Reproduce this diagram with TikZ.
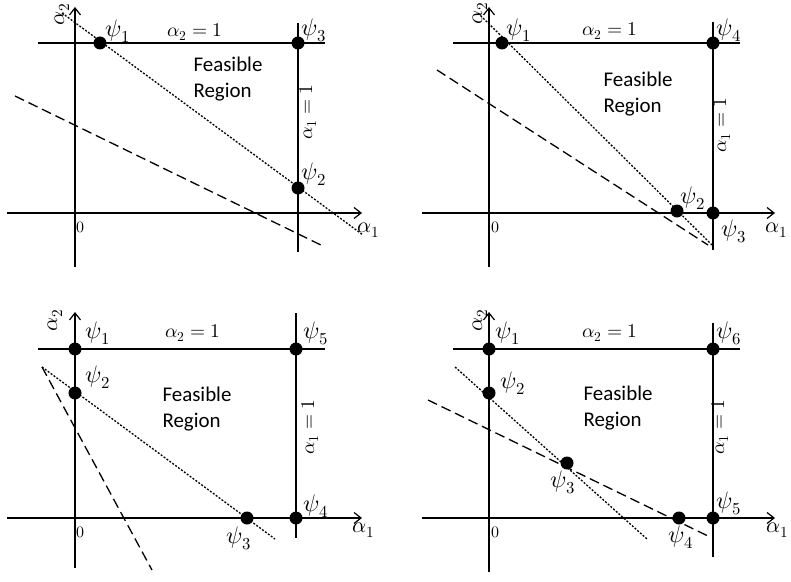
\documentclass[tikz,border=0pt]{standalone}
\usepackage{fontspec}
\usepackage{unicode-math}
\setmainfont{Carlito}
\setmathfont{Latin Modern Math}
\usetikzlibrary{arrows.meta}
\begin{document}
\begin{tikzpicture}[x=1bp,y=-1bp,
  ax/.style={line width=1.4bp,-{Straight Barb[length=7bp,width=11bp,line width=1.2bp]}},
  bd/.style={line width=1.4bp},
  dotl/.style={line width=1.3bp,dash pattern=on 2bp off 1.6bp},
  dashl/.style={line width=1.3bp,dash pattern=on 10bp off 5bp},
  pt/.style={circle,fill=black,inner sep=0pt,minimum size=13bp},
  psi/.style={inner sep=0pt,font=\fontsize{24}{27}\selectfont},
  eqn/.style={inner sep=0pt,font=\fontsize{19.5}{22}\selectfont},
  axl/.style={inner sep=0pt,font=\fontsize{22}{25}\selectfont},
  zer/.style={inner sep=0pt,font=\fontsize{16}{19}\selectfont},
  reg/.style={inner sep=0pt,align=left,font=\fontsize{21}{26}\selectfont}]
\useasboundingbox (0,0) rectangle (791,582);

% ---------------- Panel 1 (top left) ----------------
\coordinate (p1yb) at (75,267);  \coordinate (p1yt) at (75,7);
\coordinate (p1xl) at (7,213);   \coordinate (p1xr) at (362,213);
\coordinate (p1hl) at (38,43);   \coordinate (p1hr) at (325,43);
\coordinate (p1vt) at (298,23);  \coordinate (p1vb) at (298,252);
\coordinate (p1ds) at (62,13);   \coordinate (p1de) at (363,235);
\coordinate (p1ls) at (15,96);   \coordinate (p1le) at (325,247);
\draw[ax] (p1yb) -- (p1yt);
\draw[ax] (p1xl) -- (p1xr);
\draw[bd] (p1hl) -- (p1hr);
\draw[bd] (p1vt) -- (p1vb);
\draw[dotl] (p1ds) -- (p1de);
\draw[dashl] (p1ls) -- (p1le);
\node[pt] (p1a) at (100,43) {};
\node[pt] (p1c) at (298,43) {};
\node[pt] (p1b) at (298,188) {};
\node[psi] (p1l1) at (118,31) {$\psi_1$};
\node[eqn] (p1h) at (195,32) {$\alpha_2=1$};
\node[psi] (p1l3) at (314,30) {$\psi_3$};
\node[psi] (p1l2) at (314,174) {$\psi_2$};
\node[eqn,rotate=90] (p1v) at (308,112) {$\alpha_1=1$};
\node[reg] (p1r) at (228,79) {Feasible\\Region};
\node[zer] (p1z) at (80,227) {$0$};
\node[axl] (p1x) at (369,230) {$\alpha_1$};
\node[axl,rotate=90] (p1y) at (62,14) {$\alpha_2$};

% ---------------- Panel 2 (top right) ----------------
\coordinate (p2yb) at (489,267); \coordinate (p2yt) at (489,7);
\coordinate (p2xl) at (422,213); \coordinate (p2xr) at (775,213);
\coordinate (p2hl) at (453,43);  \coordinate (p2hr) at (740,43);
\coordinate (p2vt) at (713,22);  \coordinate (p2vb) at (713,250);
\coordinate (p2ds) at (478,13);  \coordinate (p2de) at (712,245);
\coordinate (p2ls) at (437,70);  \coordinate (p2le) at (708,245);
\draw[ax] (p2yb) -- (p2yt);
\draw[ax] (p2xl) -- (p2xr);
\draw[bd] (p2hl) -- (p2hr);
\draw[bd] (p2vt) -- (p2vb);
\draw[dotl] (p2ds) -- (p2de);
\draw[dashl] (p2ls) -- (p2le);
\node[pt] (p2a) at (502,43) {};
\node[pt] (p2d) at (713,43) {};
\node[pt] (p2b) at (677,211) {};
\node[pt] (p2c) at (713,213) {};
\node[psi] (p2l1) at (519,30) {$\psi_1$};
\node[eqn] (p2h) at (610,31) {$\alpha_2=1$};
\node[psi] (p2l4) at (729,30) {$\psi_4$};
\node[psi] (p2l2) at (693,198) {$\psi_2$};
\node[psi] (p2l3) at (734,231) {$\psi_3$};
\node[eqn,rotate=90] (p2v) at (722,125) {$\alpha_1=1$};
\node[reg] (p2r) at (638,94) {Feasible\\Region};
\node[zer] (p2z) at (495,227) {$0$};
\node[axl] (p2x) at (777,230) {$\alpha_1$};
\node[axl,rotate=90] (p2y) at (480,13) {$\alpha_2$};

% ---------------- Panel 3 (bottom left) ----------------
\coordinate (p3yb) at (75,568);  \coordinate (p3yt) at (75,312);
\coordinate (p3xl) at (7,518);   \coordinate (p3xr) at (362,518);
\coordinate (p3hl) at (38,349);  \coordinate (p3hr) at (325,349);
\coordinate (p3vt) at (296,313); \coordinate (p3vb) at (296,538);
\coordinate (p3ds) at (42,367);  \coordinate (p3de) at (275,539);
\coordinate (p3le) at (152,570);
\draw[ax] (p3yb) -- (p3yt);
\draw[ax] (p3xl) -- (p3xr);
\draw[bd] (p3hl) -- (p3hr);
\draw[bd] (p3vt) -- (p3vb);
\draw[dotl] (p3ds) -- (p3de);
\draw[dashl] (p3ds) -- (p3le);
\node[pt] (p3a) at (75,349) {};
\node[pt] (p3e) at (296,349) {};
\node[pt] (p3b) at (75,393) {};
\node[pt] (p3c) at (247,518) {};
\node[pt] (p3d) at (296,518) {};
\node[psi] (p3l1) at (98,333) {$\psi_1$};
\node[eqn] (p3h) at (193,333) {$\alpha_2=1$};
\node[psi] (p3l5) at (316,333) {$\psi_5$};
\node[psi] (p3l2) at (98,377) {$\psi_2$};
\node[psi] (p3l4) at (316,506) {$\psi_4$};
\node[psi] (p3l3) at (239,538) {$\psi_3$};
\node[eqn,rotate=90] (p3v) at (310,427) {$\alpha_1=1$};
\node[reg] (p3r) at (197,409) {Feasible\\Region};
\node[zer] (p3z) at (80,532) {$0$};
\node[axl] (p3x) at (364,530) {$\alpha_1$};
\node[axl,rotate=90] (p3y) at (55,320) {$\alpha_2$};

% ---------------- Panel 4 (bottom right) ----------------
\coordinate (p4yb) at (489,572); \coordinate (p4yt) at (489,312);
\coordinate (p4xl) at (422,518); \coordinate (p4xr) at (775,518);
\coordinate (p4hl) at (453,349); \coordinate (p4hr) at (740,349);
\coordinate (p4vt) at (713,323); \coordinate (p4vb) at (713,557);
\coordinate (p4ds) at (455,367); \coordinate (p4de) at (647,539);
\coordinate (p4ls) at (428,400); \coordinate (p4le) at (710,537);
\draw[ax] (p4yb) -- (p4yt);
\draw[ax] (p4xl) -- (p4xr);
\draw[bd] (p4hl) -- (p4hr);
\draw[bd] (p4vt) -- (p4vb);
\draw[dotl] (p4ds) -- (p4de);
\draw[dashl] (p4ls) -- (p4le);
\node[pt] (p4a) at (489,349) {};
\node[pt] (p4f) at (713,349) {};
\node[pt] (p4b) at (489,393) {};
\node[pt] (p4c) at (567,463) {};
\node[pt] (p4d) at (679,518) {};
\node[pt] (p4e) at (713,518) {};
\node[psi] (p4l1) at (508,333) {$\psi_1$};
\node[eqn] (p4h) at (610,333) {$\alpha_2=1$};
\node[psi] (p4l6) at (729,333) {$\psi_6$};
\node[psi] (p4l2) at (513,383) {$\psi_2$};
\node[psi] (p4l3) at (563,482) {$\psi_3$};
\node[psi] (p4l4) at (681,537) {$\psi_4$};
\node[psi] (p4l5) at (729,503) {$\psi_5$};
\node[eqn,rotate=90] (p4v) at (720,427) {$\alpha_1=1$};
\node[reg] (p4r) at (618,408) {Feasible\\Region};
\node[zer] (p4z) at (495,532) {$0$};
\node[axl] (p4x) at (778,530) {$\alpha_1$};
\node[axl,rotate=90] (p4y) at (480,320) {$\alpha_2$};
\end{tikzpicture}
\end{document}
